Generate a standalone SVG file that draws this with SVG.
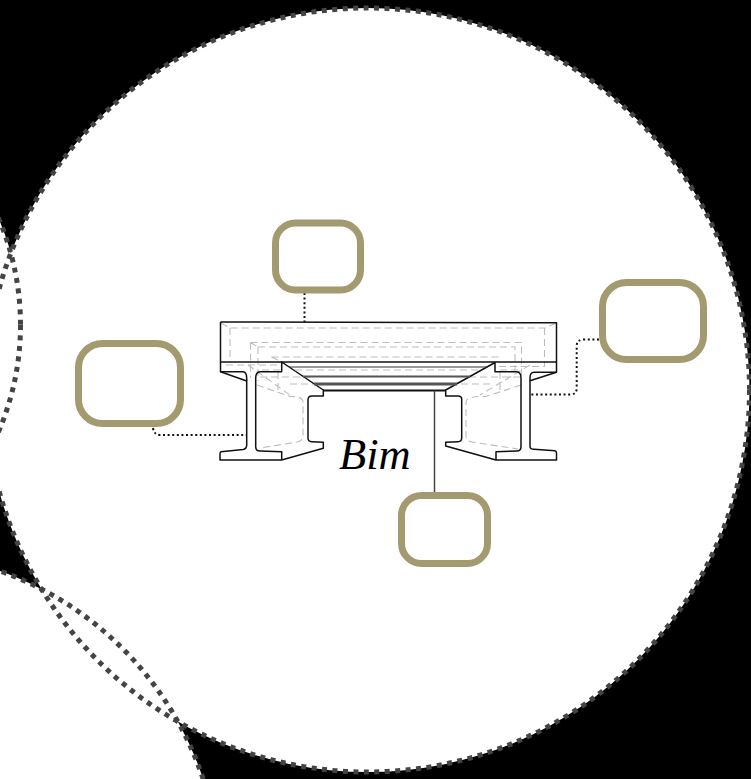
<svg xmlns="http://www.w3.org/2000/svg" width="751" height="779" viewBox="0 0 751 779">
<style>
.fill{fill:#fff;stroke:none}
.ring{fill:none;stroke:#444;stroke-width:5;stroke-dasharray:5 5.5}
.box{fill:#fff;stroke:#a39a70;stroke-width:7}
.out{fill:none;stroke:#111;stroke-width:1.5;stroke-linejoin:round}
.hid{fill:none;stroke:#bdbdbd;stroke-width:1.1;stroke-dasharray:7 4}
.dot{fill:none;stroke:#111;stroke-width:2;stroke-dasharray:2 2.6}
.lbl{font-family:"Liberation Serif","Times New Roman",serif;font-style:italic;font-size:44.500px;fill:#000}
</style>
<rect width="751" height="779" fill="#000"/>
<g id="circles">
<circle class="fill" cx="367.500" cy="390" r="382"/>
<circle class="fill" cx="-249.500" cy="325" r="270"/>
<circle class="fill" cx="-112" cy="883.500" r="332"/>
<circle class="ring" cx="-249.500" cy="325" r="270"/>
<circle class="ring" cx="-112" cy="883.500" r="332"/>
<circle class="ring" cx="367.500" cy="390" r="382"/>
</g>
<g id="beam">
<g id="hidden">
<path class="hid" d="M221 323L230 328H545L556 323M230 328V363M226 365H282M544.500 328V366.500H495"/>
<path class="hid" d="M250.500 342.500H521.500V376M250.500 342.500V378M250.500 342.500L258 347M258 347H515V372M258 347V381"/>
<path class="hid" d="M271.500 357H500M271.500 357L282 362M280 370H260M500 370H520"/>
<path class="hid" d="M257 385L290 396.500Q303 396 303 402V436Q303 441 297 442L260 448"/>
<path class="hid" d="M521 385L486 396.500Q466 396 466 402V436Q466 441 472 442L518 449"/>
<path class="hid" d="M260 377H315M278 372V394M290 384H320M248 365L290 395M520 377H462M500 372V394M490 384H452M530 365L480 395"/>
</g>
<path class="out" d="M220.500 322L556.500 322.800V372.300L530 380.700V446.700Q530 449 534 449.300L555 450.700Q556.500 451 556.500 453V460H496L445.700 446V442.300L458 441.700Q461.700 441.500 461.700 438V399Q461.700 396 458 396H445.700V390L495 362.500V371.700H516.700Q521 372 521 378V446.700Q521 451 516.700 451L496 451.700V460.700"/>
<path class="out" d="M220.500 322V371.700L246.700 381V445Q246.700 449 243 449.500L221 451.700Q220 452 220 454V460H281.700L323.300 448.300V442.300L311.700 441.700Q308 441.500 308 438V400Q308 396 311.700 396H323.300V390L281.700 362V371.700H260Q255.700 372 255.700 378V446.700Q255.700 451 260 451L281.700 451.700V460.700"/>
<path class="out" d="M220.500 371.700H243Q246.700 372 246.700 378V381M556.500 372.300H534Q530 372.500 530 378V381"/>
<path fill="none" stroke="#111" stroke-width="1.600" d="M220.500 362H556.500"/>
<path fill="none" stroke="#333" stroke-width="1" d="M289 367H488"/>
<path class="hid" d="M295 370H482"/>
<path fill="none" stroke="#555" stroke-width="2" d="M303 376.500H470"/>
<path fill="none" stroke="#555" stroke-width="3" d="M314 384H457"/>
<path fill="none" stroke="#111" stroke-width="2" d="M323 390.500H446"/>
</g>
<g id="connectors">
<path class="dot" d="M304.500 293V322"/>
<path class="dot" d="M153 428Q154 435 160 435H247"/>
<path class="dot" d="M599 339.500H584Q576.700 339.500 576.700 346V388Q576.700 394.500 570 394.500H530.700"/>
<path fill="none" stroke="#444" stroke-width="1.500" d="M434.500 390.500V495"/>
</g>
<g id="node-top"><rect class="box" x="275.500" y="223" width="85" height="67" rx="20"/></g>
<g id="node-left"><rect class="box" x="78.500" y="343.500" width="102" height="80" rx="24"/></g>
<g id="node-right"><rect class="box" x="602.500" y="282.500" width="101" height="77" rx="24"/></g>
<g id="node-bottom"><rect class="box" x="401.500" y="495.500" width="86" height="68" rx="20"/></g>
<text class="lbl" x="339" y="469">Bim</text>
</svg>
